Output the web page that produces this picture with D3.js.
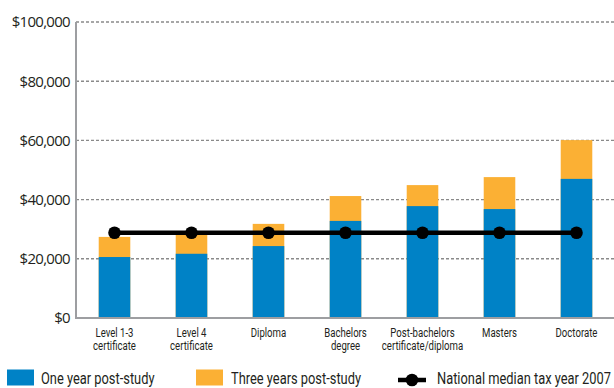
<!DOCTYPE html>
<html>
<head>
<meta charset="utf-8">
<script src="https://cdn.jsdelivr.net/npm/d3@7"></script>
<style>
  html, body { margin: 0; padding: 0; background: #fff; }
  svg { display: block; }
</style>
</head>
<body>
<svg id="chart" width="614" height="388"></svg>
<script>
// Median earnings by qualification level
const categories = [
  ["Level 1-3", "certificate"],
  ["Level 4", "certificate"],
  ["Diploma"],
  ["Bachelors", "degree"],
  ["Post-bachelors", "certificate/diploma"],
  ["Masters"],
  ["Doctorate"]
];
const oneYear = [20600, 21700, 24300, 32800, 37800, 36800, 47000];
const threeYears = [27400, 28400, 31800, 41200, 44900, 47600, 60100];
const nationalMedian = [28800, 28800, 28800, 28800, 28800, 28800, 28800];
const yTicks = [0, 20000, 40000, 60000, 80000, 100000];
const legendLabels = ["One year post-study", "Three years post-study", "National median tax year 2007"];

const BLUE = "#0082c6", ORANGE = "#fbb034";
const narrowFont = "Roboto, 'Liberation Sans', sans-serif";

// squeeze a text element horizontally to a fraction of its natural width
function condense(sel, factor) {
  sel.each(function () {
    const w = this.getComputedTextLength();
    d3.select(this).attr("textLength", w * factor).attr("lengthAdjust", "spacingAndGlyphs");
  });
}

const svg = d3.select("#chart");
const plotLeft = 76, plotRight = 615, plotTop = 22, plotBottom = 318;

const x = d3.scaleBand().domain(d3.range(categories.length)).range([plotLeft, plotRight]).paddingInner(0.59).paddingOuter(0.295);
const y = d3.scaleLinear().domain([0, 100000]).range([plotBottom, plotTop]);

// dashed gridlines
svg.append("g").selectAll("line").data(yTicks.filter(d => d > 0)).join("line")
  .attr("x1", plotLeft).attr("x2", 614)
  .attr("y1", d => y(d)).attr("y2", d => y(d))
  .attr("stroke", "#8a8a8a").attr("stroke-width", 1.4).attr("stroke-dasharray", "3,2");

// y axis tick labels
const yAxis = d3.axisLeft(y).tickValues(yTicks).tickSize(0).tickPadding(6)
  .tickFormat(d => "$" + d3.format(",")(d));
const gy = svg.append("g").attr("transform", `translate(${plotLeft},0)`).call(yAxis);
gy.select(".domain").remove();
gy.selectAll("text").attr("font-family", "'Open Sans', 'Liberation Sans', sans-serif")
  .attr("font-size", 15).attr("fill", "#231f20").attr("letter-spacing", "-0.7");

// stacked bars: three-year total behind, one-year in front
svg.append("g").selectAll("rect").data(threeYears).join("rect")
  .attr("x", (d, i) => x(i)).attr("width", x.bandwidth())
  .attr("y", d => y(d)).attr("height", d => y(0) - y(d)).attr("fill", ORANGE);
svg.append("g").selectAll("rect").data(oneYear).join("rect")
  .attr("x", (d, i) => x(i)).attr("width", x.bandwidth())
  .attr("y", d => y(d)).attr("height", d => y(0) - y(d)).attr("fill", BLUE);

// axis lines
svg.append("line").attr("x1", plotLeft).attr("x2", plotLeft).attr("y1", plotTop).attr("y2", plotBottom + 1)
  .attr("stroke", "#9d9ea1").attr("stroke-width", 2);
svg.append("line").attr("x1", plotLeft - 1).attr("x2", 614).attr("y1", plotBottom).attr("y2", plotBottom)
  .attr("stroke", "#9d9ea1").attr("stroke-width", 2);

// category labels, one text per line
const cx = i => x(i) + x.bandwidth() / 2;
const labelLines = categories.flatMap((lines, i) => lines.map((t, j) => ({ t, i, j })));
const lab = svg.append("g").attr("font-family", narrowFont).attr("font-size", 12).attr("fill", "#231f20")
  .selectAll("text").data(labelLines).join("text")
  .attr("x", d => cx(d.i)).attr("y", d => 337 + d.j * 12.6)
  .attr("text-anchor", "middle").text(d => d.t);
condense(lab, 0.8);

// national median line
const line = d3.line().x((d, i) => cx(i)).y(d => y(d));
svg.append("path").datum(nationalMedian).attr("d", line)
  .attr("fill", "none").attr("stroke", "#000").attr("stroke-width", 4.5);
svg.append("g").selectAll("circle").data(nationalMedian).join("circle")
  .attr("cx", (d, i) => cx(i)).attr("cy", d => y(d)).attr("r", 6.3).attr("fill", "#000");

// legend (labels drawn in a horizontally squeezed frame)
const lg = svg.append("g").attr("font-family", narrowFont).attr("font-size", 16.5).attr("fill", "#231f20");
lg.append("rect").attr("x", 7).attr("y", 369.5).attr("width", 27).attr("height", 16).attr("fill", BLUE);
lg.append("rect").attr("x", 196).attr("y", 369.5).attr("width", 27).attr("height", 16).attr("fill", ORANGE);
lg.append("line").attr("x1", 398).attr("x2", 426).attr("y1", 380).attr("y2", 380)
  .attr("stroke", "#000").attr("stroke-width", 4.5);
lg.append("circle").attr("cx", 412).attr("cy", 380).attr("r", 6.3).attr("fill", "#000");
const legendX = [41, 231, 437];
lg.selectAll("text").data(legendLabels).join("text")
  .attr("transform", (d, i) => `translate(${legendX[i]},384) scale(0.78,1)`)
  .text(d => d);
</script>
</body>
</html>
